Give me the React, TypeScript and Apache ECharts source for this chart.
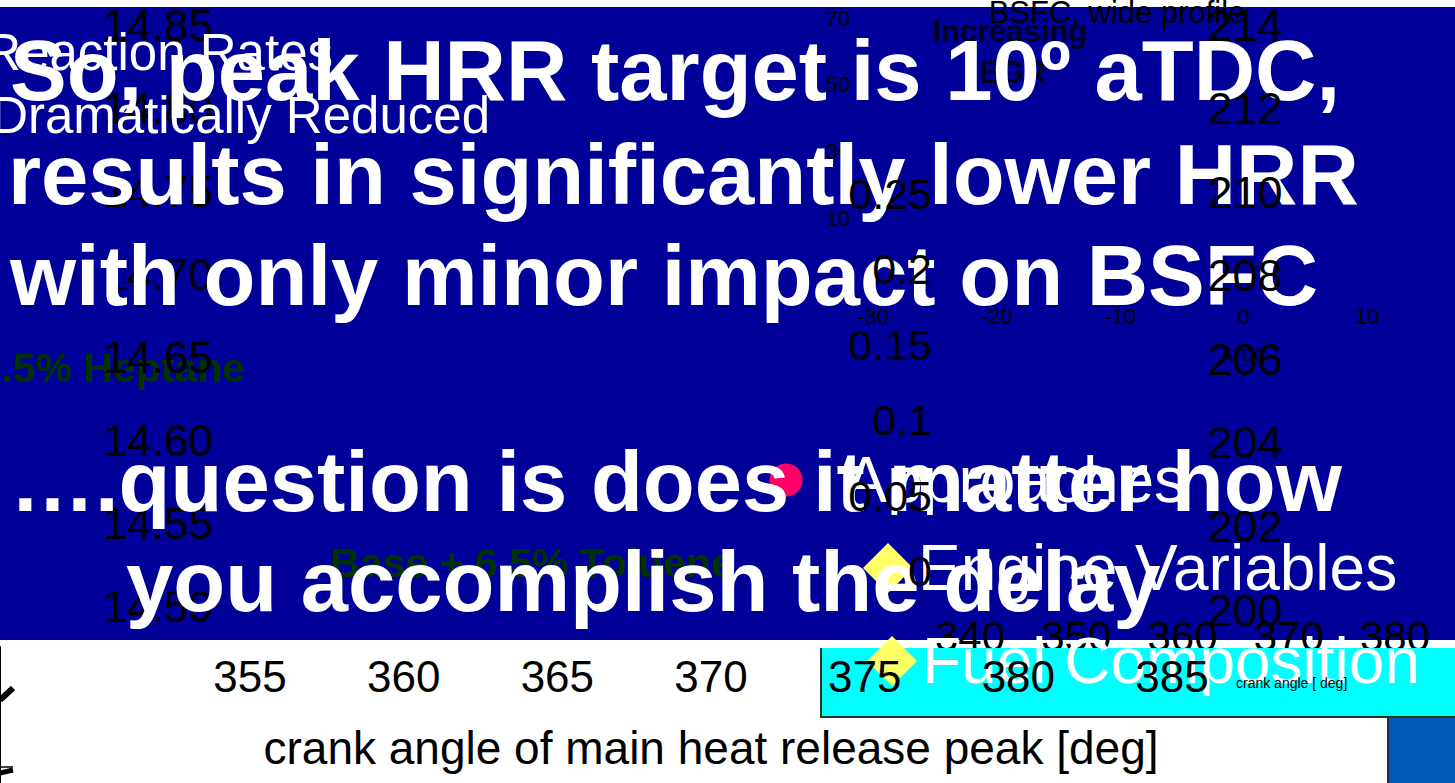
import React, { useEffect, useRef } from "react";
import * as echarts from "echarts";

const FONT = '"Liberation Sans", Arial, Helvetica, sans-serif';

// ---- data: tick labels & axis ranges ----
const mixtureTicks = ["14.50", "14.55", "14.60", "14.65", "14.70", "14.75", "14.80", "14.85"];
const bsfcRange = { min: 200, max: 214, step: 2 };
const hrrRange = { min: 0, max: 0.25, step: 0.05 };
const peakAngleRange = { min: 355, max: 385, step: 5 };
const profileAngleRange = { min: 340, max: 380, step: 10 };
const insetYTicks = ["10", "30", "50", "70"];
const insetXRange = { min: -30, max: 10, step: 10 };

const headline = [
  "So, peak HRR target is 10\u00BA aTDC,",
  "results in significantly lower HRR",
  "with only minor impact on BSFC",
  "\u2026.question is does it matter how",
  "you accomplish the delay",
];
const legendNames = ["Approaches", "Engine Variables", "Fuel Composition"];
const legendColors = ["#FF0066", "#FFFF66", "#FFFF66"];

// fragments of a curve clipped at the left edge (x: 0..13, y: 0..136 upward)
const traceA = [[0, 83], [13, 95]];
const traceB = [[0, 10], [13, 13]];
const traceC = [[0, 16], [13, 16]];

const hidden = (gridIndex: number, type: any = "value") => ({ gridIndex, type, show: false });

const labelStyle = (size: number) => ({
  color: "#000",
  fontFamily: FONT,
  fontSize: size,
  lineHeight: size,
});

const bare = {
  axisLine: { show: false },
  axisTick: { show: false },
  splitLine: { show: false },
};

export default function App() {
  const ref = useRef<HTMLDivElement>(null);
  useEffect(() => {
    if (!ref.current) return;
    const chart = echarts.init(ref.current, null, { renderer: "svg" });

    const headX = [10, 8, 10, 10, 126];
    const headY = [70, 174, 275, 481, 581];

    const option: any = {
      animation: false,
      backgroundColor: "#ffffff",
      grid: [
        { left: 221, top: 25, width: 10, height: 581 }, // 0 mixture axis
        { left: 1200, top: 25, width: 37, height: 585 }, // 1 bsfc axis
        { left: 940, top: 194, width: 10, height: 377 }, // 2 hrr axis
        { left: 250, top: 600, width: 922, height: 46 }, // 3 peak angle axis
        { left: 970, top: 560, width: 425, height: 47 }, // 4 profile angle axis
        { left: 858, top: 18, width: 10, height: 200 }, // 5 inset y
        { left: 873, top: 250, width: 494, height: 47 }, // 6 inset x
        { left: 0, top: 647, width: 13, height: 136 }, // 7 clipped plot
      ],
      xAxis: [
        hidden(0),
        hidden(1),
        hidden(2),
        {
          gridIndex: 3, type: "value", ...peakAngleRange, interval: peakAngleRange.step, z: 6,
          ...bare,
          axisLabel: { ...labelStyle(44), margin: 8 },
          name: "crank angle of main heat release peak [deg]",
          nameLocation: "middle", nameGap: 79,
          nameTextStyle: { color: "#000", fontFamily: FONT, fontSize: 46, lineHeight: 46 },
        },
        {
          gridIndex: 4, type: "value", min: profileAngleRange.min, max: profileAngleRange.max,
          interval: profileAngleRange.step, z: 2, ...bare,
          axisLabel: { ...labelStyle(42), margin: 8 },
        },
        hidden(5),
        {
          gridIndex: 6, type: "value", min: insetXRange.min, max: insetXRange.max,
          interval: insetXRange.step, z: 3, ...bare,
          axisLabel: { ...labelStyle(22), margin: 8 },
        },
        { gridIndex: 7, type: "value", min: 0, max: 13, show: false },
      ],
      yAxis: [
        {
          gridIndex: 0, type: "category", data: mixtureTicks, boundaryGap: false, z: 3, ...bare,
          axisLabel: { ...labelStyle(44), margin: 8 },
        },
        {
          gridIndex: 1, type: "value", position: "right", min: bsfcRange.min, max: bsfcRange.max,
          interval: bsfcRange.step, z: 6, ...bare,
          axisLabel: { ...labelStyle(45), margin: 8, align: "center" },
        },
        {
          gridIndex: 2, type: "value", min: hrrRange.min, max: hrrRange.max, interval: hrrRange.step,
          z: 6, ...bare,
          axisLabel: { ...labelStyle(43), margin: 8 },
        },
        hidden(3),
        hidden(4),
        {
          gridIndex: 5, type: "category", data: insetYTicks, boundaryGap: false, z: 3, ...bare,
          axisLabel: { ...labelStyle(22), margin: 8 },
        },
        hidden(6),
        {
          gridIndex: 7, type: "value", position: "right", min: 0, max: 136, z: 1,
          axisLine: { show: true, lineStyle: { color: "#000", width: 2 } },
          axisTick: { show: false }, axisLabel: { show: false }, splitLine: { show: false },
        },
      ],
      legend: [
        {
          data: [legendNames[0]], left: 769.5, top: 448, icon: "circle", itemWidth: 33, itemHeight: 33,
          padding: 0, selectedMode: false, z: 4,
          itemStyle: { opacity: 1 },
          textStyle: { color: "#fff", fontFamily: FONT, fontSize: 64, lineHeight: 64, padding: [0, 0, 0, 37] },
        },
        {
          data: [legendNames[1]], left: 863, top: 536, icon: "diamond", itemWidth: 50, itemHeight: 50,
          padding: 0, selectedMode: false, z: 4,
          itemStyle: { opacity: 1 },
          textStyle: { color: "#fff", fontFamily: FONT, fontSize: 64, lineHeight: 64 },
        },
        {
          data: [legendNames[2]], left: 867, top: 629, icon: "diamond", itemWidth: 50, itemHeight: 50,
          padding: 0, selectedMode: false, z: 4,
          itemStyle: { opacity: 1 },
          textStyle: { color: "#fff", fontFamily: FONT, fontSize: 64, lineHeight: 64 },
        },
      ],
      series: [
        ...[traceA, traceB].map((d, i) => ({
          type: "line", xAxisIndex: 7, yAxisIndex: 7, data: d, symbol: "none", silent: true, z: 1,
          lineStyle: { color: "#000", width: i === 0 ? 6 : 5 },
        })),
        {
          type: "line", xAxisIndex: 7, yAxisIndex: 7, data: traceC, symbol: "none", silent: true, z: 1,
          lineStyle: { color: "#000", width: 1.5 },
        },
        ...legendNames.map((name, i) => ({
          type: "scatter", name, xAxisIndex: 7, yAxisIndex: 7, data: [],
          itemStyle: { color: legendColors[i], opacity: 1 },
        })),
      ],
      graphic: {
        elements: [
          { type: "rect", z: 1, shape: { x: 0, y: 7, width: 1455, height: 633 }, style: { fill: "#000099" } },
          { type: "rect", z: 3, shape: { x: 820, y: 648, width: 635, height: 69 }, style: { fill: "#00FFFF" } },
          { type: "line", z: 3, shape: { x1: 821, y1: 648, x2: 821, y2: 718 }, style: { stroke: "#1E3A1E", lineWidth: 2 } },
          { type: "line", z: 3, shape: { x1: 820, y1: 717, x2: 1455, y2: 717 }, style: { stroke: "#1E3A1E", lineWidth: 2 } },
          { type: "rect", z: 3, shape: { x: 1388, y: 718, width: 67, height: 65 }, style: { fill: "#0058B4" } },
          { type: "line", z: 3, shape: { x1: 1388, y1: 718, x2: 1388, y2: 783 }, style: { stroke: "#1E2A4A", lineWidth: 2 } },
          // side annotations
          { type: "text", z: 2, x: 245, y: 368, style: { text: "Base + 6.5% Heptane", font: `bold 41px ${FONT}`, fill: "#003300", textAlign: "right", textVerticalAlign: "middle" } },
          { type: "text", z: 2, x: 330, y: 563, style: { text: "Base + 6.5% Toluene", font: `bold 41px ${FONT}`, fill: "#003300", textAlign: "left", textVerticalAlign: "middle" } },
          { type: "text", z: 4, x: 333, y: 52, style: { text: "Reaction Rates", font: `51px ${FONT}`, fill: "#ffffff", textAlign: "right", textVerticalAlign: "middle" } },
          { type: "text", z: 4, x: 490, y: 115, style: { text: "Dramatically Reduced", font: `51px ${FONT}`, fill: "#ffffff", textAlign: "right", textVerticalAlign: "middle" } },
          { type: "text", z: 4, x: 1010, y: 31, style: { text: "Increasing", font: `bold 31px ${FONT}`, fill: "#000022", textAlign: "center", textVerticalAlign: "middle" } },
          { type: "text", z: 4, x: 1013, y: 72, style: { text: "EGR", font: `bold 31px ${FONT}`, fill: "#000022", textAlign: "center", textVerticalAlign: "middle" } },
          { type: "text", z: 6, x: 1117, y: 12, style: { text: "BSFC, wide profile", font: `31px ${FONT}`, fill: "#000000", textAlign: "center", textVerticalAlign: "middle" } },
          { type: "text", z: 6, x: 1244, y: 355, style: { text: "ATDC", font: `17px ${FONT}`, fill: "#000000", textAlign: "center", textVerticalAlign: "middle" } },
          { type: "text", z: 6, x: 1236, y: 683, style: { text: "crank angle [ deg]", font: `14px ${FONT}`, fill: "#000000", textAlign: "left", textVerticalAlign: "middle" } },
          // headline
          ...headline.map((t, i) => ({
            type: "text", z: 5, x: headX[i], y: headY[i],
            style: { text: t, font: `bold 85px ${FONT}`, fill: "#ffffff", textAlign: "left", textVerticalAlign: "middle" },
          })),
        ],
      },
    };

    chart.setOption(option);
    return () => chart.dispose();
  }, []);

  return (
    <div
      ref={ref}
      style={{ position: "absolute", left: 0, top: 0, width: 1455, height: 783, background: "#fff" }}
    />
  );
}
